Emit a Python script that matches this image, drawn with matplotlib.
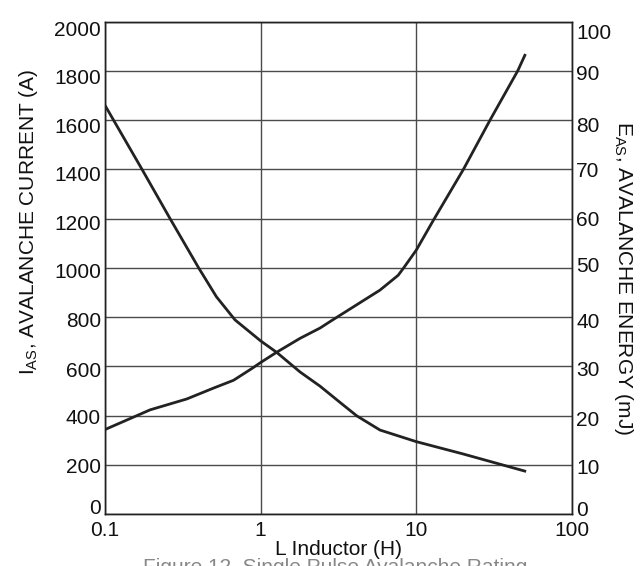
import matplotlib
matplotlib.use("Agg")
import matplotlib.pyplot as plt
from matplotlib.transforms import ScaledTranslation

plt.rcParams['font.family'] = ['Liberation Sans', 'DejaVu Sans']
plt.rcParams['mathtext.fontset'] = 'custom'
plt.rcParams['mathtext.rm'] = 'Liberation Sans'
plt.rcParams['mathtext.it'] = 'Liberation Sans'

# Avalanche current (A) vs inductance (H)
L_cur = [0.1, 0.173, 0.262, 0.4, 0.52, 0.685, 1.0, 1.27, 1.79, 2.41, 3.3, 4.14, 5.85, 10, 20, 50.8]
I_cur = [1660, 1400, 1200, 1000, 883, 789, 704, 657, 578, 520, 450, 400, 342, 295, 245, 174]

# Avalanche energy (mJ) vs inductance (H)
L_en = [0.1, 0.195, 0.335, 0.497, 0.67, 0.88, 1.0, 1.27, 1.79, 2.41, 2.79, 5.85, 7.65, 8.3, 10, 12.9, 20.1, 29.8, 44.9, 50.3]
E_en = [17.2, 21.2, 23.4, 25.6, 27.2, 29.6, 30.8, 32.9, 35.7, 37.8, 39.1, 45.5, 48.5, 50, 53.6, 59.7, 70, 80, 90, 93.4]

x_ticks = [0.1, 1, 10, 100]
x_labels = ['0.1', '1', '10', '100']
left_ticks = list(range(0, 2001, 200))
right_ticks = list(range(0, 101, 10))

fig = plt.figure(figsize=(6.44, 5.66), dpi=100)
ax = fig.add_axes([0.163, 0.0913, 0.725, 0.8707])
ax2 = ax.twinx()

ax.set_xscale('log')
ax.set_xlim(0.1, 100)
ax.set_ylim(0, 2000)
ax2.set_ylim(0, 100)

ax.set_xticks(x_ticks)
ax.set_xticklabels(x_labels)
ax.xaxis.set_minor_locator(matplotlib.ticker.NullLocator())
ax.set_yticks(left_ticks)
ax2.set_yticks(right_ticks)

ax.grid(True, which='major', color='#4a4a4a', linewidth=1.0)
ax.set_axisbelow(True)

ax.plot(L_cur, I_cur, color='#222222', linewidth=2.0, solid_capstyle='butt')
ax2.plot(L_en, E_en, color='#222222', linewidth=2.0, solid_capstyle='butt')

ax.tick_params(axis='x', length=0, labelsize=15, pad=5, colors='#111111')
ax.tick_params(axis='y', length=0, labelsize=15, pad=3, colors='#111111')
ax2.tick_params(axis='y', length=0, labelsize=15, pad=3, colors='#111111')
for sp in list(ax.spines.values()) + list(ax2.spines.values()):
    sp.set_color('#222222')
    sp.set_linewidth(1.0)

# small vertical nudges of tick labels (pixels, positive = down), as in the scan
left_nudge = [-8, 0, 1, 3, 2, 3, 4, 4, 5, 6, 7]
right_nudge = [-6, 1.5, 3, 2, 3, -3, 0, 0, 4, 2, 10]
fig.canvas.draw()
for lab, d in zip(ax.get_yticklabels(), left_nudge):
    lab.set_transform(lab.get_transform() + ScaledTranslation(0, -d / 100, fig.dpi_scale_trans))
for lab, d in zip(ax2.get_yticklabels(), right_nudge):
    lab.set_transform(lab.get_transform() + ScaledTranslation(0, -d / 100, fig.dpi_scale_trans))

ax.set_xlabel('L Inductor (H)', fontsize=15, labelpad=0, color='#111111')
ax.set_ylabel(r'I$_{\mathrm{AS}}$, AVALANCHE CURRENT (A)', fontsize=15, labelpad=10,
              color='#111111', y=0.593)
ax2.set_ylabel(r'E$_{\mathrm{AS}}$, AVALANCHE ENERGY (mJ)', fontsize=15, rotation=270,
               labelpad=17, color='#111111', y=0.48)

fig.text(0.222, 0.0135, 'Figure 12. Single Pulse Avalanche Rating', fontsize=15,
         color='#888888', ha='left', va='top')

fig.savefig('out.png', dpi=100)
